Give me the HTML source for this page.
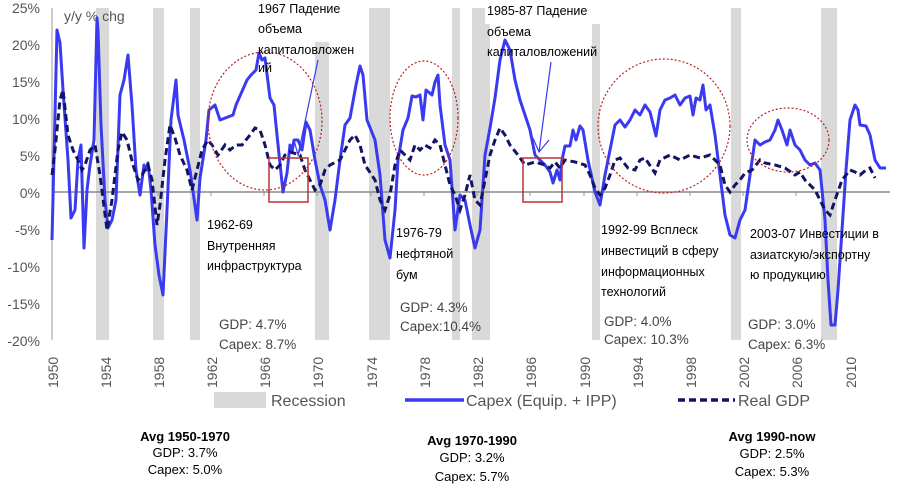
<!DOCTYPE html>
<html><head><meta charset="utf-8"><style>
body{margin:0;background:#fff;width:898px;height:490px;overflow:hidden}
svg{display:block}
.ax{font-family:"Liberation Sans",sans-serif;font-size:14px;fill:#555}
.ru{font-family:"Liberation Sans","Noto Sans CJK SC",sans-serif;font-size:12.5px;fill:#000}
.st{font-family:"Liberation Sans",sans-serif;font-size:13.5px;fill:#444}
.av{font-family:"Liberation Sans",sans-serif;font-size:13px;fill:#000}
</style></head><body>
<svg width="898" height="490" viewBox="0 0 898 490">
<g fill="#d9d9d9">
<rect x="96" y="8" width="13" height="332"/>
<rect x="153" y="8" width="11" height="332"/>
<rect x="190" y="8" width="10" height="332"/>
<rect x="315" y="8" width="14" height="332"/>
<rect x="369" y="8" width="21" height="332"/>
<rect x="452" y="8" width="8" height="332"/>
<rect x="472" y="8" width="18" height="332"/>
<rect x="592" y="8" width="8" height="332"/>
<rect x="731" y="8" width="10" height="332"/>
<rect x="821" y="8" width="16" height="332"/>
</g>
<line x1="52" y1="8" x2="52" y2="340" stroke="#999" stroke-width="1"/>
<line x1="52" y1="192" x2="890" y2="192" stroke="#888" stroke-width="1.5"/>
<g stroke="#999"><line x1="105" y1="192" x2="105" y2="196"/><line x1="158" y1="192" x2="158" y2="196"/><line x1="211" y1="192" x2="211" y2="196"/><line x1="264" y1="192" x2="264" y2="196"/><line x1="317" y1="192" x2="317" y2="196"/><line x1="371" y1="192" x2="371" y2="196"/><line x1="424" y1="192" x2="424" y2="196"/><line x1="477" y1="192" x2="477" y2="196"/><line x1="530" y1="192" x2="530" y2="196"/><line x1="584" y1="192" x2="584" y2="196"/><line x1="637" y1="192" x2="637" y2="196"/><line x1="690" y1="192" x2="690" y2="196"/><line x1="743" y1="192" x2="743" y2="196"/><line x1="796" y1="192" x2="796" y2="196"/></g>
<g class="ax" text-anchor="end">
<text x="40" y="13">25%</text><text x="40" y="50">20%</text><text x="40" y="87">15%</text><text x="40" y="124">10%</text><text x="40" y="161">5%</text><text x="40" y="198">0%</text><text x="40" y="235">-5%</text><text x="40" y="272">-10%</text><text x="40" y="309">-15%</text><text x="40" y="346">-20%</text>
</g>
<text class="ax" x="64" y="21" fill="#555">y/y % chg</text>
<polyline fill="none" stroke="#3a3af0" stroke-width="3" stroke-linejoin="round" points="52,240 57,30 60,43 63,90 68,160 71,218 75,210 78,160 81,145 84,248 87,190 90,165 94,140 97,18 98,30 101,125 105,200 108,228 112,220 116,200 120,95 124,80 128,55 132,105 136,170 140,195 142,180 144,165 146,170 148,163 151,190 155,245 159,275 163,295 167,210 171,120 176,80 178,115 184,140 190,170 197,220 200,178 206,140 209,110 215,105 220,120 233,115 236,105 247,80 251,75 256,70 259,53 262,60 265,58 270,98 274,105 277,135 283,192 287,173 290,145 292,152 294,140 298,140 302,150 306,122 310,130 315,160 320,185 325,200 330,230 335,200 340,160 345,125 350,118 356,85 360,66 363,75 367,120 375,140 380,175 385,240 390,258 395,210 398,160 403,130 408,118 412,96 416,97 420,95 423,120 426,90 432,95 435,82 438,75 440,105 445,145 450,160 455,230 460,195 465,200 470,225 475,248 480,230 485,155 490,128 495,98 500,60 505,40 510,50 515,80 520,100 525,115 530,130 535,155 540,160 545,165 550,172 553,183 557,170 560,180 562,160 565,146 570,146 573,130 576,140 580,126 583,130 588,160 595,192 600,205 605,175 610,150 615,125 620,120 625,127 630,120 635,110 640,115 645,105 650,112 656,136 660,110 665,100 670,98 675,95 680,105 685,98 690,96 693,115 696,98 700,100 703,85 706,110 710,105 715,135 720,175 725,215 730,235 735,238 740,220 745,210 750,175 755,140 760,145 765,142 770,140 775,130 778,120 782,130 787,145 790,130 795,145 800,150 805,160 810,165 815,163 820,170 825,220 828,280 831,325 835,325 838,290 842,230 846,170 850,120 855,105 858,110 860,125 866,126 870,135 875,160 880,168 886,168"/>
<polyline fill="none" stroke="#141464" stroke-width="3" stroke-dasharray="7,4" points="52,175 55,150 60,100 63,90 68,135 73,150 78,160 82,170 85,165 90,150 95,145 100,175 107,230 112,200 118,150 122,132 127,140 133,165 138,180 142,175 148,165 152,180 157,225 160,205 165,160 170,125 175,138 180,155 187,170 192,190 197,170 202,150 208,140 212,145 218,155 225,145 230,150 236,145 242,145 250,135 255,128 260,130 265,145 270,165 275,170 280,165 285,155 290,152 300,155 305,170 310,180 315,190 320,185 325,170 330,165 340,160 350,140 355,135 360,145 365,165 375,180 380,200 385,210 390,195 395,165 400,150 405,155 410,160 415,145 420,150 425,145 430,148 435,140 440,145 445,165 450,185 455,195 460,210 465,195 470,175 475,200 480,205 485,180 490,155 495,140 500,128 505,135 510,145 518,155 525,165 535,162 545,165 550,168 555,162 560,168 565,160 575,162 585,165 590,175 595,188 600,195 605,188 610,175 615,160 620,158 628,168 635,170 640,160 645,158 655,173 660,160 670,155 680,160 690,155 700,158 710,155 720,165 725,185 730,192 735,185 740,180 745,173 752,170 760,160 765,163 775,165 785,168 795,175 800,172 805,180 815,190 820,200 825,210 830,215 835,200 842,180 850,170 855,172 860,175 866,170 870,168 875,178"/>
<g fill="none" stroke="#b22" stroke-width="1.2" stroke-dasharray="2,2">
<ellipse cx="265" cy="121" rx="57" ry="69"/>
<ellipse cx="424" cy="118" rx="34" ry="57"/>
<ellipse cx="664" cy="126" rx="66" ry="67"/>
<ellipse cx="788" cy="140" rx="41" ry="32"/>
</g>
<g fill="none" stroke="#b33" stroke-width="1.5">
<rect x="269" y="158" width="39" height="44"/>
<rect x="523" y="158" width="39" height="44"/>
</g>
<g stroke="#3a3af0" stroke-width="1.2" fill="none">
<line x1="318" y1="60" x2="298" y2="155"/><polyline points="304,138 298,155 294,140"/>
<line x1="551" y1="62" x2="539" y2="152"/><polyline points="533,138 539,152 549,140"/>
</g>
<g class="ru">
<rect x="246" y="2" width="96" height="40" fill="#fff"/>
<rect x="485" y="2" width="130" height="22" fill="#fff"/>
<text x="258" y="13">1967 Падение</text><text x="258" y="33">объема</text><text x="258" y="54">капиталовложен</text><text x="258" y="72">ий</text>
<text x="487" y="15">1985-87 Падение</text><text x="487" y="36">объема</text><text x="487" y="56">капиталовложений</text>
<rect x="205" y="215" width="100" height="62" fill="#fff"/>
<text x="207" y="229">1962-69</text><text x="207" y="250">Внутренняя</text><text x="207" y="270">инфраструктура</text>
<text x="396" y="237">1976-79</text><text x="396" y="258">нефтяной</text><text x="396" y="279">бум</text>
<text x="601" y="234">1992-99 Всплеск</text><text x="601" y="255">инвестиций в сферу</text><text x="601" y="276">информационных</text><text x="601" y="296">технологий</text>
<text x="750" y="238">2003-07 Инвестиции в</text><text x="750" y="259">азиатскую/экспортну</text><text x="750" y="279">ю продукцию</text>
</g>
<g class="st">
<text x="219" y="329">GDP: 4.7%</text><text x="219" y="349">Capex: 8.7%</text>
<text x="400" y="312">GDP: 4.3%</text><text x="400" y="331">Capex:10.4%</text>
<text x="604" y="326">GDP: 4.0%</text><text x="604" y="344">Capex: 10.3%</text>
<text x="748" y="329">GDP: 3.0%</text><text x="748" y="349">Capex: 6.3%</text>
</g>
<g class="ax" fill="#555">
<text transform="translate(58,388) rotate(-90)">1950</text>
<text transform="translate(111,388) rotate(-90)">1954</text>
<text transform="translate(164,388) rotate(-90)">1958</text>
<text transform="translate(217,388) rotate(-90)">1962</text>
<text transform="translate(270,388) rotate(-90)">1966</text>
<text transform="translate(323,388) rotate(-90)">1970</text>
<text transform="translate(377,388) rotate(-90)">1974</text>
<text transform="translate(430,388) rotate(-90)">1978</text>
<text transform="translate(483,388) rotate(-90)">1982</text>
<text transform="translate(536,388) rotate(-90)">1986</text>
<text transform="translate(590,388) rotate(-90)">1990</text>
<text transform="translate(643,388) rotate(-90)">1994</text>
<text transform="translate(696,388) rotate(-90)">1998</text>
<text transform="translate(749,388) rotate(-90)">2002</text>
<text transform="translate(802,388) rotate(-90)">2006</text>
<text transform="translate(856,388) rotate(-90)">2010</text>
</g>
<rect x="214" y="392" width="52" height="16" fill="#d9d9d9"/>
<text class="ax" x="271" y="406" style="font-size:16px">Recession</text>
<line x1="405" y1="400" x2="464" y2="400" stroke="#3a3af0" stroke-width="3.5"/>
<text class="ax" x="466" y="406" style="font-size:16px">Capex (Equip. + IPP)</text>
<line x1="678" y1="400" x2="735" y2="400" stroke="#141464" stroke-width="3.5" stroke-dasharray="7,4"/>
<text class="ax" x="738" y="406" style="font-size:16px">Real GDP</text>
<g class="av" text-anchor="middle">
<text x="185" y="441" font-weight="bold">Avg 1950-1970</text><text x="185" y="457">GDP: 3.7%</text><text x="185" y="474">Capex: 5.0%</text>
<text x="472" y="445" font-weight="bold">Avg 1970-1990</text><text x="472" y="462">GDP: 3.2%</text><text x="472" y="481">Capex: 5.7%</text>
<text x="772" y="441" font-weight="bold">Avg 1990-now</text><text x="772" y="458">GDP: 2.5%</text><text x="772" y="476">Capex: 5.3%</text>
</g>
</svg>
</body></html>
